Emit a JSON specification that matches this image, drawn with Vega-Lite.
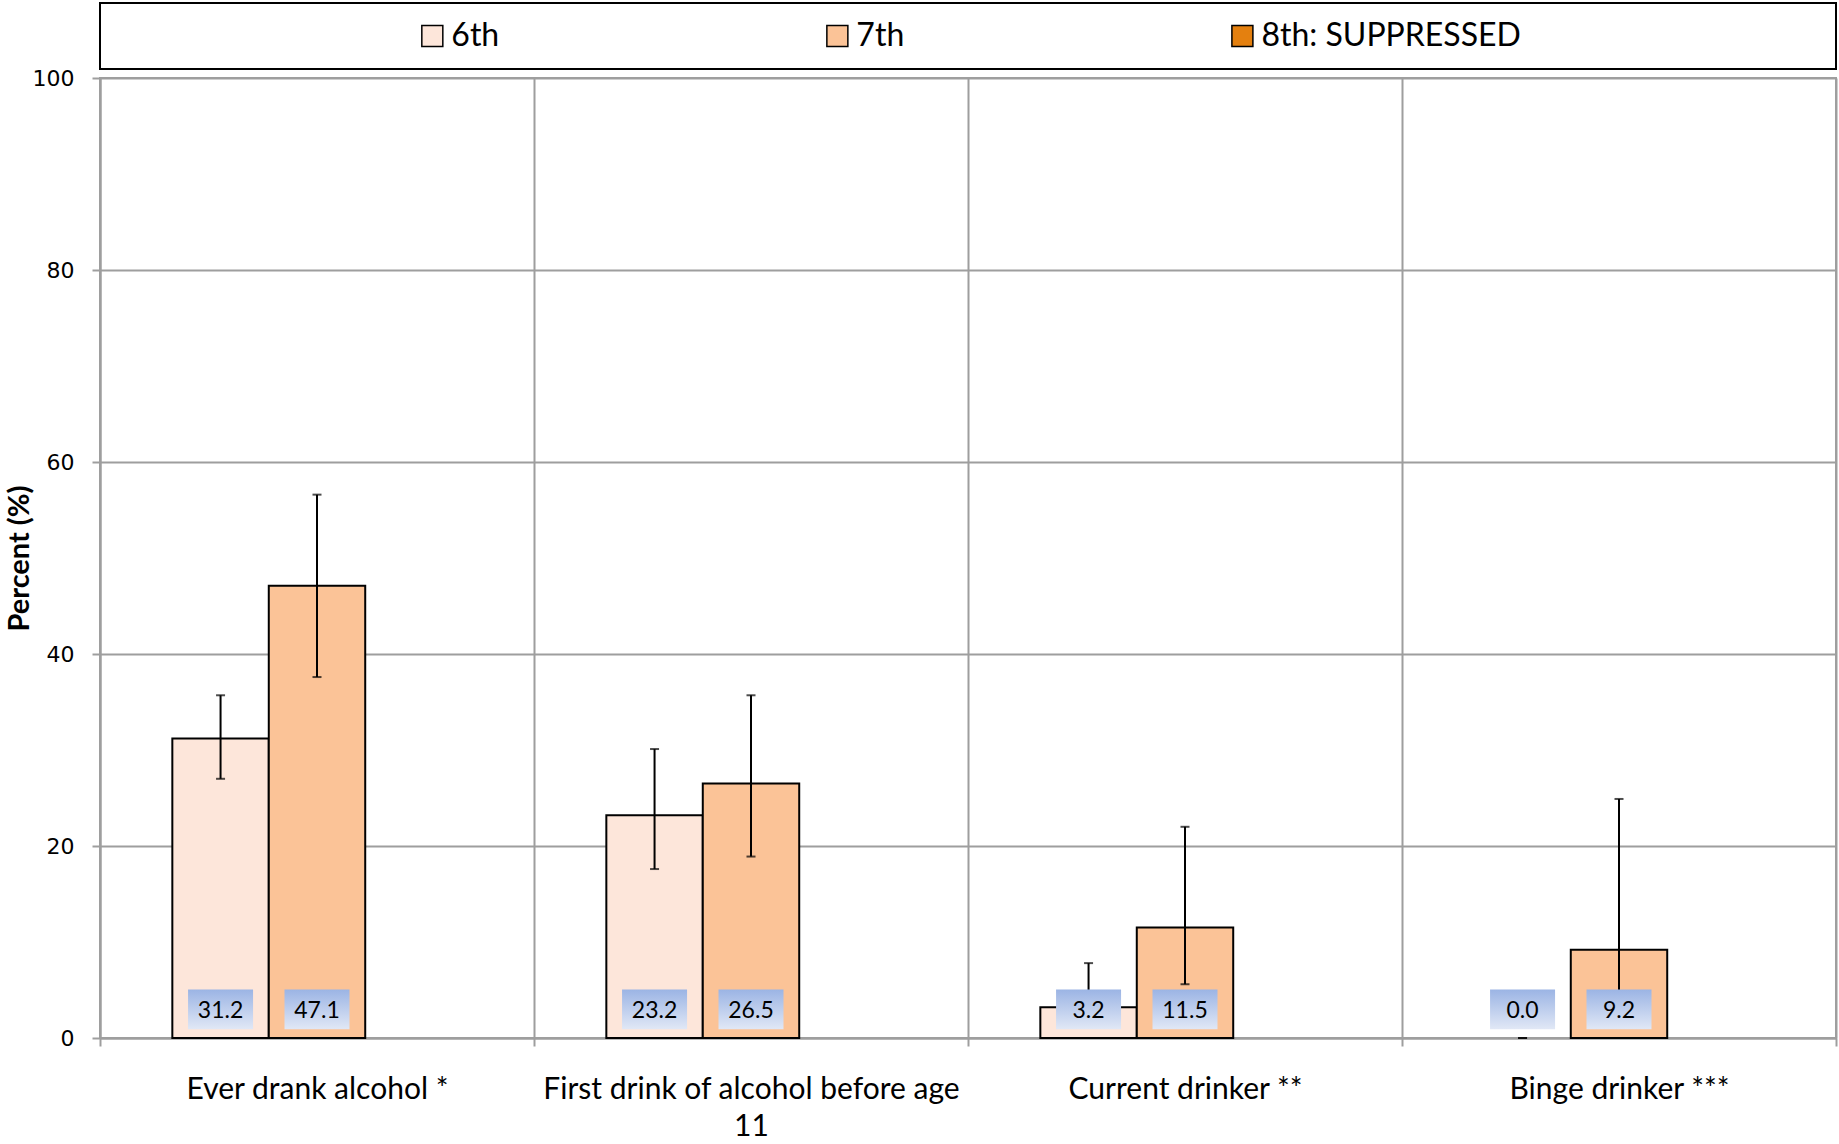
{
  "$schema": "https://vega.github.io/schema/vega-lite/v6.json",
  "padding": {"left": 4, "top": 2, "right": 0, "bottom": 0},
  "background": "white",
  "spacing": 9,
  "bounds": "flush",
  "resolve": {"scale": {"x": "independent", "y": "independent", "xOffset": "independent"}},
  "config": {
    "font": "Lato",
    "view": {"stroke": null},
    "axisY": {
      "grid": true, "gridColor": "#9e9e9e", "gridWidth": 2,
      "domainColor": "#9e9e9e", "domainWidth": 2,
      "tickColor": "#9e9e9e", "tickWidth": 2, "tickSize": 8,
      "labelFont": "DejaVu Sans", "labelFontSize": 22, "labelColor": "black", "labelPadding": 18,
      "titleFont": "Lato", "titleFontWeight": "bold", "titleFontSize": 29, "titleColor": "black", "titlePadding": -2
    }
  },
  "vconcat": [
    {
      "width": 1736,
      "height": 66,
      "view": {"stroke": "black", "strokeWidth": 2},
      "data": {"values": [{"grade": "6th"}, {"grade": "7th"}, {"grade": "8th: SUPPRESSED"}]},
      "encoding": {
        "x": {
          "field": "grade", "type": "nominal", "bandPosition": 0, "axis": null,
          "scale": {"type": "band", "domain": ["6th", "7th", "8th: SUPPRESSED"], "paddingInner": 0, "paddingOuter": 0.643, "align": 0.638}
        }
      },
      "layer": [
        {
          "mark": {"type": "point", "shape": "square", "filled": true, "size": 441, "stroke": "black", "strokeWidth": 1.5, "opacity": 1},
          "encoding": {
            "color": {"field": "grade", "type": "nominal", "legend": null,
              "scale": {"domain": ["6th", "7th", "8th: SUPPRESSED"], "range": ["#fde6da", "#fbc397", "#e4800f"]}}
          }
        },
        {
          "mark": {"type": "text", "align": "left", "baseline": "middle", "dx": 19, "fontSize": 32, "font": "Lato", "color": "black"},
          "encoding": {"text": {"field": "grade", "type": "nominal"}}
        }
      ]
    },
    {
      "width": 1736,
      "height": 960,
      "view": {"stroke": "#9e9e9e", "strokeWidth": 2},
      "data": {"values": [
        {"item": "Ever drank alcohol *", "grade": "6th", "value": 31.2, "lo": 27.0, "hi": 35.7},
        {"item": "Ever drank alcohol *", "grade": "7th", "value": 47.1, "lo": 37.6, "hi": 56.6},
        {"item": "First drink of alcohol before age 11", "grade": "6th", "value": 23.2, "lo": 17.6, "hi": 30.1},
        {"item": "First drink of alcohol before age 11", "grade": "7th", "value": 26.5, "lo": 18.9, "hi": 35.7},
        {"item": "Current drinker **", "grade": "6th", "value": 3.2, "lo": 1.6, "hi": 7.8},
        {"item": "Current drinker **", "grade": "7th", "value": 11.5, "lo": 5.6, "hi": 22.0},
        {"item": "Binge drinker ***", "grade": "6th", "value": 0.0, "lo": 0.0, "hi": 0.0},
        {"item": "Binge drinker ***", "grade": "7th", "value": 9.2, "lo": 2.5, "hi": 24.9}
      ]},
      "encoding": {
        "x": {
          "field": "item", "type": "nominal", "sort": null,
          "scale": {"domain": ["Ever drank alcohol *", "First drink of alcohol before age 11", "Current drinker **", "Binge drinker ***"], "paddingInner": 0, "paddingOuter": 0},
          "axis": {
            "title": null, "labelAngle": 0, "tickBand": "extent", "grid": true,
            "gridColor": "#9e9e9e", "gridWidth": 2, "domainColor": "#9e9e9e", "domainWidth": 2,
            "tickColor": "#9e9e9e", "tickWidth": 2, "tickSize": 8,
            "labelFont": "Lato", "labelFontSize": 30, "labelColor": "black", "labelPadding": 28,
            "labelLimit": 800, "labelLineHeight": 37, "labelOverlap": false, "labelBaseline": "top",
            "labelExpr": "datum.value == 'First drink of alcohol before age 11' ? ['First drink of alcohol before age', '11'] : datum.value"
          }
        },
        "xOffset": {
          "field": "grade", "type": "nominal",
          "scale": {"domain": ["6th", "7th", "8th: SUPPRESSED"], "paddingInner": 0, "paddingOuter": 0.75}
        }
      },
      "layer": [
        {
          "transform": [{"filter": "datum.value > 0"}],
          "mark": {"type": "bar", "stroke": "black", "strokeWidth": 2},
          "encoding": {
            "y": {"field": "value", "type": "quantitative", "title": "Percent (%)",
              "scale": {"domain": [0, 100], "nice": false},
              "axis": {"values": [0, 20, 40, 60, 80, 100]}},
            "color": {"field": "grade", "type": "nominal", "legend": null,
              "scale": {"domain": ["6th", "7th", "8th: SUPPRESSED"], "range": ["#fde6da", "#fbc397", "#e4800f"]}}
          }
        },
        {
          "mark": {"type": "rule", "color": "black", "strokeWidth": 2},
          "encoding": {
            "y": {"field": "lo", "type": "quantitative", "title": "Percent (%)"},
            "y2": {"field": "hi"}
          }
        },
        {
          "mark": {"type": "tick", "color": "black", "thickness": 2, "size": 9},
          "encoding": {"y": {"field": "hi", "type": "quantitative", "title": "Percent (%)"}}
        },
        {
          "mark": {"type": "tick", "color": "black", "thickness": 2, "size": 9},
          "encoding": {"y": {"field": "lo", "type": "quantitative", "title": "Percent (%)"}}
        },
        {
          "mark": {"type": "bar", "width": 65,
            "fill": {"gradient": "linear", "x1": 0, "y1": 0, "x2": 0, "y2": 1,
              "stops": [{"offset": 0, "color": "#9bb4e4"}, {"offset": 1, "color": "#e1e8f6"}]}},
          "encoding": {
            "y": {"datum": 5.05, "type": "quantitative", "title": "Percent (%)"},
            "y2": {"datum": 0.9}
          }
        },
        {
          "mark": {"type": "text", "baseline": "middle", "fontSize": 23, "font": "Lato", "color": "black"},
          "encoding": {
            "y": {"datum": 2.83, "type": "quantitative", "title": "Percent (%)"},
            "text": {"field": "value", "type": "quantitative", "format": ".1f"}
          }
        }
      ]
    }
  ]
}
